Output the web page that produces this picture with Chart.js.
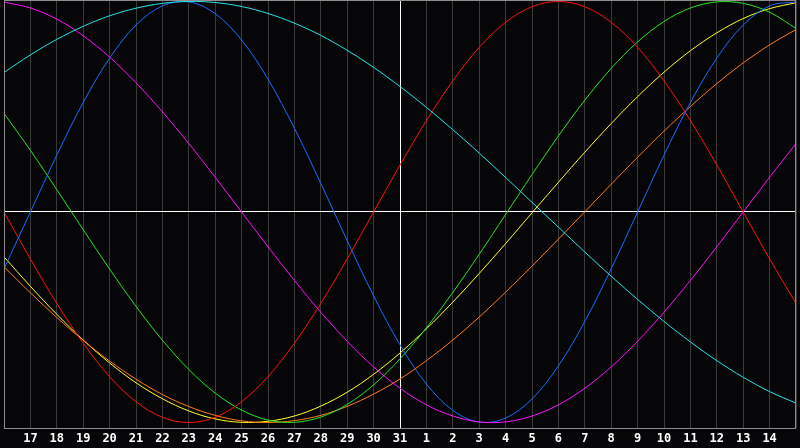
<!DOCTYPE html>
<html>
<head>
<meta charset="utf-8">
<style>
  html, body { margin: 0; padding: 0; background: #060608; }
  canvas { display: block; background: #060608; }
</style>
<script src="https://cdn.jsdelivr.net/npm/chart.js@4.4.1/dist/chart.umd.min.js"></script>
</head>
<body>
<canvas id="chart" width="800" height="448"></canvas>
<script>
// one label per day, first and last day are the chart edges (no label)
const dayLabels = ['', '17', '18', '19', '20', '21', '22', '23', '24', '25', '26', '27', '28', '29', '30', '31',
    '1', '2', '3', '4', '5', '6', '7', '8', '9', '10', '11', '12', '13', '14', ''];

// values, one per day, range -1..1
const redLine = [0, -0.223, -0.434, -0.623, -0.782, -0.901, -0.975, -1, -0.975, -0.901, -0.782, -0.623, -0.434, -0.223,
    0, 0.223, 0.434, 0.623, 0.782, 0.901, 0.975, 1, 0.975, 0.901, 0.782, 0.623, 0.434, 0.223, 0, -0.223, -0.434];
const blueLine = [-0.270, 0, 0.270, 0.520, 0.731, 0.888, 0.979, 0.998, 0.942, 0.817, 0.631, 0.398, 0.136, -0.136,
    -0.398, -0.631, -0.817, -0.942, -0.998, -0.979, -0.888, -0.731, -0.520, -0.270, 0, 0.270, 0.520, 0.731, 0.888, 0.979, 0.998];
const greenLine = [0.468, 0.293, 0.106, -0.084, -0.271, -0.448, -0.609, -0.748, -0.860, -0.941, -0.988, -0.999, -0.974,
    -0.914, -0.821, -0.698, -0.550, -0.382, -0.201, -0.012, 0.178, 0.361, 0.531, 0.682, 0.808, 0.905, 0.969, 0.998, 0.991, 0.949, 0.872];
const magentaLine = [0.997, 0.969, 0.916, 0.837, 0.736, 0.614, 0.476, 0.325, 0.165, 0, -0.165, -0.325, -0.476, -0.614,
    -0.736, -0.837, -0.916, -0.969, -0.997, -0.997, -0.969, -0.916, -0.837, -0.736, -0.614, -0.476, -0.325, -0.165, 0, 0.165, 0.325];
const cyanLine = [0.663, 0.746, 0.820, 0.882, 0.932, 0.968, 0.991, 1.0, 0.995, 0.976, 0.943, 0.897, 0.839, 0.768, 0.687,
    0.596, 0.497, 0.391, 0.280, 0.164, 0.046, -0.072, -0.190, -0.305, -0.415, -0.520, -0.617, -0.706, -0.785, -0.853, -0.908];
const yellowLine = [-0.213, -0.353, -0.486, -0.608, -0.717, -0.811, -0.887, -0.945, -0.983, -0.999, -0.994, -0.969, -0.922,
    -0.856, -0.771, -0.670, -0.555, -0.428, -0.292, -0.150, -0.004, 0.141, 0.284, 0.420, 0.548, 0.664, 0.766, 0.851, 0.919, 0.966, 0.994];
const orangeLine = [-0.260, -0.384, -0.501, -0.610, -0.708, -0.794, -0.867, -0.924, -0.966, -0.992, -1.0, -0.991, -0.966,
    -0.923, -0.865, -0.793, -0.706, -0.608, -0.499, -0.381, -0.257, -0.129, 0.001, 0.132, 0.260, 0.384, 0.501, 0.610, 0.708, 0.794, 0.867];

const canvas = document.getElementById("chart");

function line(data, color) {
    return {
        data: data,
        borderColor: color,
        borderWidth: 1,
        pointRadius: 0,
        tension: 0.35,
        fill: false
    };
}

// grey frame round the plot area
const framePlugin = {
    id: 'frame',
    afterDraw(chart) {
        const ctx = chart.ctx;
        const a = chart.chartArea;
        ctx.save();
        ctx.strokeStyle = '#8c8c8c';
        ctx.lineWidth = 1;
        ctx.strokeRect(a.left + 0.5, a.top + 0.5, a.right - a.left - 1, a.bottom - a.top);
        ctx.restore();
    }
};

new Chart(canvas, {
    type: 'line',
    data: {
        labels: dayLabels,
        datasets: [
            line(cyanLine, '#22e6e6'),
            line(magentaLine, '#ff10ff'),
            line(blueLine, '#1a6cff'),
            line(redLine, '#ff1010'),
            line(greenLine, '#22e622'),
            line(orangeLine, '#ff7a1a'),
            line(yellowLine, '#ffff22')
        ]
    },
    options: {
        responsive: false,
        animation: false,
        devicePixelRatio: 1,
        layout: { padding: 0 },
        plugins: {
            legend: { display: false },
            tooltip: { enabled: false }
        },
        scales: {
            x: {
                type: 'category',
                offset: false,
                afterFit: s => { s.height = 20; },
                border: { display: false },
                grid: {
                    offset: false,
                    drawTicks: false,
                    color: c => c.index === 15 ? '#ffffff' : '#3a3a3a'
                },
                ticks: {
                    autoSkip: false,
                    maxRotation: 0,
                    padding: 4,
                    color: '#ffffff',
                    font: { family: 'DejaVu Sans Mono', size: 12, weight: 'bold' }
                }
            },
            y: {
                min: -1.026,
                max: 1.007,
                afterFit: s => { s.width = 0; },
                afterBuildTicks: s => { s.ticks = [{ value: 0 }]; },
                border: { display: false },
                grid: { drawTicks: false, color: '#ffffff' },
                ticks: { display: false }
            }
        }
    },
    plugins: [framePlugin]
});
</script>
</body>
</html>
